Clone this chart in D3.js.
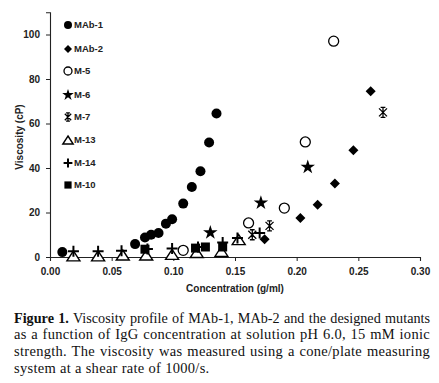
<!DOCTYPE html>
<html>
<head>
<meta charset="utf-8">
<script src="https://cdn.jsdelivr.net/npm/d3@7"></script>
<style>
  body { margin: 0; background: #fff; }
  #wrap { position: relative; width: 439px; height: 383px; overflow: hidden; }
  .cap {
    position: absolute; left: 14px; width: 416px; height: 16px; line-height: 16px;
    font-family: "Liberation Serif", "DejaVu Serif", serif;
    font-size: 14.5px; letter-spacing: 0.3px; color: #111; white-space: nowrap;
    text-align: justify; text-align-last: justify;
  }
  .cap.first { font-size: 14.2px; letter-spacing: 0; word-spacing: -0.5px; }
  .cap.last { text-align-last: left; }
</style>
</head>
<body>
<div id="wrap"></div>
<script>
// viscosity (cP) vs concentration (g/ml)
const mab1X = [0.010, 0.069, 0.077, 0.082, 0.088, 0.094, 0.099, 0.108, 0.115, 0.122, 0.129, 0.135];
const mab1Y = [2.2, 5.8, 8.8, 10, 10.8, 15, 17, 24, 31.5, 38.5, 51.5, 64.5];
const mab2X = [0.174, 0.203, 0.217, 0.231, 0.246, 0.260];
const mab2Y = [8, 17.5, 23.5, 33, 48, 74.5];
const m5X = [0.108, 0.161, 0.190, 0.207, 0.230];
const m5Y = [3, 15.3, 22, 51.7, 97];
const m6X = [0.130, 0.171, 0.209];
const m6Y = [11, 24.3, 40.4];
const m7X = [0.164, 0.178, 0.270];
const m7Y = [10, 14, 65];
const m13X = [0.019, 0.039, 0.059, 0.078, 0.099, 0.119, 0.139, 0.153];
const m13Y = [0.5, 0.5, 0.9, 0.9, 1.2, 2, 2.5, 7.8];
const m14X = [0.019, 0.039, 0.058, 0.079, 0.099, 0.120, 0.140, 0.152, 0.170];
const m14Y = [2.6, 2.6, 2.8, 3.6, 3.8, 4.5, 6.5, 8.5, 10.8];
const m10X = [0.077, 0.118, 0.126, 0.140];
const m10Y = [3.5, 4, 4.5, 4.5];

const seriesNames = ['MAb-1', 'MAb-2', 'M-5', 'M-6', 'M-7', 'M-13', 'M-14', 'M-10'];
const xTicks = [0, 0.05, 0.10, 0.15, 0.20, 0.25, 0.30];
const yTicks = [0, 20, 40, 60, 80, 100];

const captionLines = [
  'Viscosity profile of MAb-1, MAb-2 and the designed mutants',
  'as a function of IgG concentration at solution pH 6.0, 15 mM ionic',
  'strength. The viscosity was measured using a cone/plate measuring',
  'system at a shear rate of 1000/s.'
];

const width = 439, height = 383;
const font = '"Liberation Sans", Arial, sans-serif';

const svg = d3.select('#wrap').append('svg')
  .attr('width', width).attr('height', height)
  .style('position', 'absolute').style('left', 0).style('top', 0);

const x = d3.scaleLinear().domain([0, 0.30]).range([50, 420]);
const y = d3.scaleLinear().domain([0, 110]).range([257, 12.25]);

// axes
const xAxis = svg.append('g')
  .attr('transform', `translate(0,${y(0)})`)
  .call(d3.axisBottom(x).tickValues(xTicks).tickSize(4).tickPadding(7).tickFormat(d3.format('.2f')));
const yAxis = svg.append('g')
  .attr('transform', `translate(${x(0)},0)`)
  .call(d3.axisLeft(y).tickValues(yTicks).tickSize(4).tickPadding(6));

[xAxis, yAxis].forEach(a => {
  a.selectAll('path.domain').attr('stroke', '#222').attr('stroke-width', 1.1);
  a.selectAll('line').attr('stroke', '#222');
  a.selectAll('text')
    .style('font-family', font).style('font-size', '10px')
    .style('font-weight', 'bold').attr('fill', '#222');
});

svg.append('text')
  .attr('x', (x(0) + x(0.3)) / 2).attr('y', 292)
  .attr('text-anchor', 'middle')
  .style('font-family', font).style('font-size', '10px').style('font-weight', 'bold')
  .attr('fill', '#222')
  .text('Concentration (g/ml)');

svg.append('text')
  .attr('transform', 'translate(23,137) rotate(-90)')
  .attr('text-anchor', 'middle')
  .style('font-family', font).style('font-size', '10px').style('font-weight', 'bold')
  .attr('fill', '#222')
  .text('Viscosity (cP)');

// marker drawing
function asteriskPath(s) {
  const h = s;
  return `M${-h},${-h}L${h},${h}M${-h},${h}L${h},${-h}M0,${-h - 1}L0,${h + 1}` +
    `M${-h * 0.6},${-h - 1}L${h * 0.6},${-h - 1}M${-h * 0.6},${h + 1}L${h * 0.6},${h + 1}`;
}
function trianglePath(w, ht) {
  return `M0,${-ht / 2}L${w / 2},${ht / 2}L${-w / 2},${ht / 2}Z`;
}
function plusPath(s) {
  return `M${-s},0L${s},0M0,${-s}L0,${s}`;
}

const markers = {
  'MAb-1': (g, k) => g.append('circle').attr('r', 5 * k).attr('fill', '#000'),
  'MAb-2': (g, k) => g.append('path').attr('d', d3.symbol(d3.symbolDiamond2, 64 * k * k)()).attr('fill', '#000'),
  'M-5': (g, k) => g.append('circle').attr('r', 5 * k).attr('fill', '#fff').attr('stroke', '#000').attr('stroke-width', 1.3),
  'M-6': (g, k) => g.append('path').attr('d', d3.symbol(d3.symbolStar, 65 * k * k)()).attr('fill', '#000'),
  'M-7': (g, k) => g.append('path').attr('d', asteriskPath(4 * k)).attr('fill', 'none').attr('stroke', '#000').attr('stroke-width', 1.3),
  'M-13': (g, k) => g.append('path').attr('d', trianglePath(13 * k, 10 * k)).attr('fill', '#fff').attr('stroke', '#000').attr('stroke-width', 1.4),
  'M-14': (g, k) => g.append('path').attr('d', plusPath(5.5 * k)).attr('fill', 'none').attr('stroke', '#000').attr('stroke-width', 2),
  'M-10': (g, k) => g.append('rect').attr('x', -4.5 * k).attr('y', -4.5 * k).attr('width', 9 * k).attr('height', 9 * k).attr('fill', '#000')
};

const seriesData = [
  [mab1X, mab1Y], [mab2X, mab2Y], [m5X, m5Y], [m6X, m6Y],
  [m7X, m7Y], [m13X, m13Y], [m14X, m14Y], [m10X, m10Y]
];

seriesNames.forEach((name, i) => {
  const [xs, ys] = seriesData[i];
  const pts = xs.map((v, j) => ({ cx: v, cy: ys[j] }));
  const grp = svg.append('g').attr('class', 'series');
  pts.forEach(p => {
    const m = grp.append('g').attr('transform', `translate(${x(p.cx)},${y(p.cy)})`);
    markers[name](m, 1);
  });
});

// legend
const legendY = [25, 49, 71, 95, 117, 140, 163, 185];
const legend = svg.append('g');
seriesNames.forEach((name, i) => {
  const row = legend.append('g').attr('transform', `translate(68,${legendY[i]})`);
  markers[name](row.append('g'), 0.8);
  row.append('text')
    .attr('x', 6).attr('y', 0).attr('dy', '0.35em')
    .style('font-family', font).style('font-size', '9.5px').style('font-weight', 'bold')
    .attr('fill', '#222')
    .text(name);
});

// caption
const capTop = [310, 326, 343, 360];
const wrap = d3.select('#wrap');
captionLines.forEach((line, i) => {
  let cls = 'cap';
  if (i === 0) cls += ' first';
  if (i === captionLines.length - 1) cls += ' last';
  const div = wrap.append('div')
    .attr('class', cls)
    .style('top', capTop[i] + 'px');
  if (i === 0) {
    div.html('<b>Figure 1.</b> ' + line);
  } else {
    div.text(line);
  }
});
</script>
</body>
</html>
